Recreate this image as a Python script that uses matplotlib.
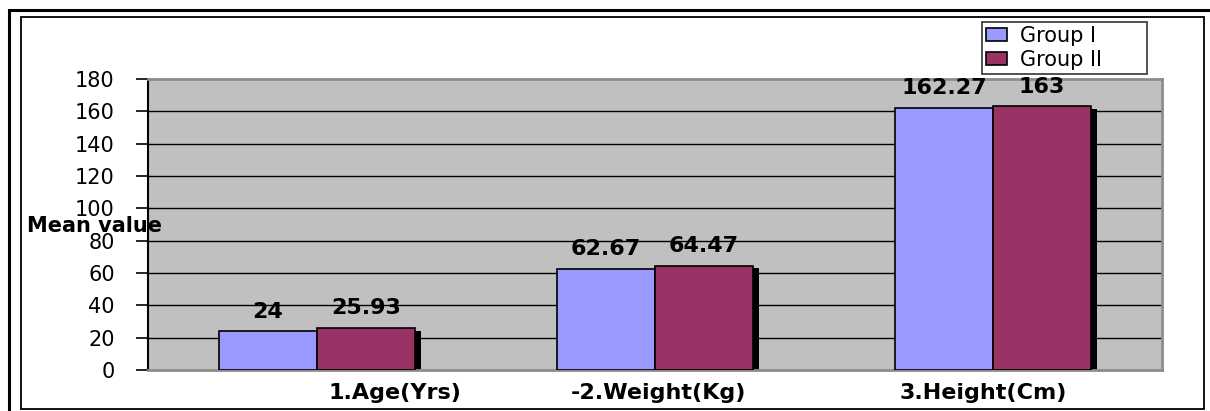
import matplotlib
matplotlib.use("Agg")
import matplotlib.pyplot as plt
import numpy as np
from matplotlib.patches import Rectangle

categories = ["1.Age(Yrs)", "-2.Weight(Kg)", "3.Height(Cm)"]
series_names = ["Group I", "Group II"]
group1 = [24, 62.67, 162.27]
group2 = [25.93, 64.47, 163]
value_labels1 = ["24", "62.67", "162.27"]
value_labels2 = ["25.93", "64.47", "163"]
yticks = [0, 20, 40, 60, 80, 100, 120, 140, 160, 180]

colors = ["#9999FF", "#993366"]
W, H = 1210, 411
fig = plt.figure(figsize=(W / 100, H / 100), dpi=100)
fig.patch.set_facecolor("white")

# borders
fig.patches.append(Rectangle((9 / W, -0.2), 1.5, 1.2 - 10 / H, transform=fig.transFigure,
                             fill=False, edgecolor="black", linewidth=2.2))
fig.patches.append(Rectangle((21 / W, 1 - 409 / H), (1204 - 21) / W, (409 - 17) / H,
                             transform=fig.transFigure, fill=False, edgecolor="black", linewidth=1.3))

ax = fig.add_axes([148 / W, 1 - 370 / H, (1162 - 148) / W, (370 - 79) / H])
ax.set_facecolor("#C0C0C0")

x = np.arange(len(categories))
bw = 0.29
# shadows
ax.bar(x + bw / 2 + 0.017, np.array(group2) - 1.5, bw, color="black", zorder=2)
ax.bar(x - bw / 2, group1, bw, color=colors[0], edgecolor="black", linewidth=1.2, zorder=3,
       label=series_names[0])
ax.bar(x + bw / 2, group2, bw, color=colors[1], edgecolor="black", linewidth=1.2, zorder=3,
       label=series_names[1])

lab_font = dict(family="DejaVu Sans", fontsize=16, fontweight="bold")
for xi, v, t in zip(x - bw / 2, group1, value_labels1):
    ax.annotate(t, (xi, v), xytext=(0, 9.8), textcoords="offset points", ha="center",
                va="baseline", **lab_font)
for xi, v, t in zip(x + bw / 2, group2, value_labels2):
    ax.annotate(t, (xi, v), xytext=(0, 9.8), textcoords="offset points", ha="center",
                va="baseline", **lab_font)

ax.set_xlim(-0.5, len(categories) - 0.5)
ax.set_ylim(0, 180)
ax.set_yticks(yticks)
ax.set_yticklabels([str(t) for t in yticks], fontsize=15, family="DejaVu Sans")
ax.tick_params(axis="y", length=9, width=1.2, pad=15, direction="out", color="black")
ax.set_xticks([])
for y in yticks[1:-1]:
    ax.axhline(y, color="black", linewidth=1.0, zorder=1)

# category labels (slightly shifted like original)
label_shift = [0.23, 0.01, -0.03]
for xi, c, s in zip(x, categories, label_shift):
    ax.text(xi + s, -0.079, c, transform=ax.get_xaxis_transform(), ha="center", va="center",
            family="DejaVu Sans", fontsize=16, fontweight="bold", clip_on=False)

for side in ["top", "right", "bottom"]:
    ax.spines[side].set_color("#8C8C8C")
    ax.spines[side].set_linewidth(2)
ax.spines["left"].set_color("black")
ax.spines["left"].set_linewidth(1.5)

ax.set_ylabel("Mean value", rotation=0, ha="left", va="baseline", family="DejaVu Sans",
              fontsize=15, fontweight="bold")
ax.yaxis.set_label_coords((27 - 148) / 1014, (370 - 232) / 291)

leg = fig.legend(loc="upper left", bbox_to_anchor=(982 / W, 1 - 79 / H, 165 / W, 57 / H),
                 mode="expand", fontsize=15,
                 frameon=True, fancybox=False, shadow=False, edgecolor="black",
                 handlelength=1.0, handleheight=0.6, handletextpad=0.6,
                 borderpad=0.2, labelspacing=0.18, borderaxespad=0)
leg.get_frame().set_linewidth(1.2)
for t in leg.get_texts():
    t.set_family("DejaVu Sans")

fig.savefig("out.png", dpi=100, facecolor="white")
